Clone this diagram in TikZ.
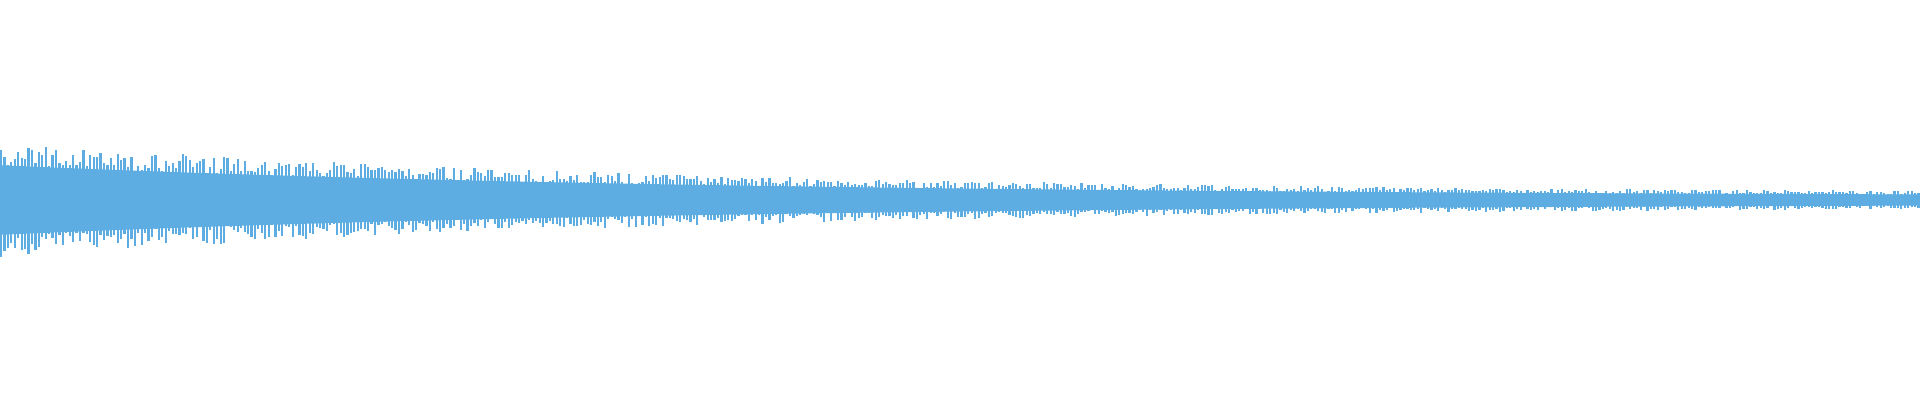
\documentclass[tikz,border=0pt]{standalone}
\definecolor{wave}{HTML}{5DADE2}
\begin{document}
\begin{tikzpicture}[x=1pt,y=1pt]
\useasboundingbox (0,0) rectangle (1920,400);
\pgfmathsetseed{11}
\fill[wave] (0,200) plot[domain=0:1920,samples=60] (\x,{200+0.6*(6+52*exp(-\x/700))}) -- plot[domain=1920:0,samples=60] (\x,{200-0.6*(6+52*exp(-\x/700))}) -- cycle;
\foreach \i in {0,...,560}{
  \pgfmathsetmacro{\xx}{\i*3.43}
  \pgfmathsetmacro{\aa}{6+52*exp(-\xx/700)}
  \pgfmathsetmacro{\hu}{\aa*(0.6+0.4*random())}
  \pgfmathsetmacro{\hd}{\aa*(0.6+0.4*random())}
  \fill[wave] (\xx,200-\hd) rectangle ++(2.2,\hu+\hd);
}
\end{tikzpicture}
\end{document}
